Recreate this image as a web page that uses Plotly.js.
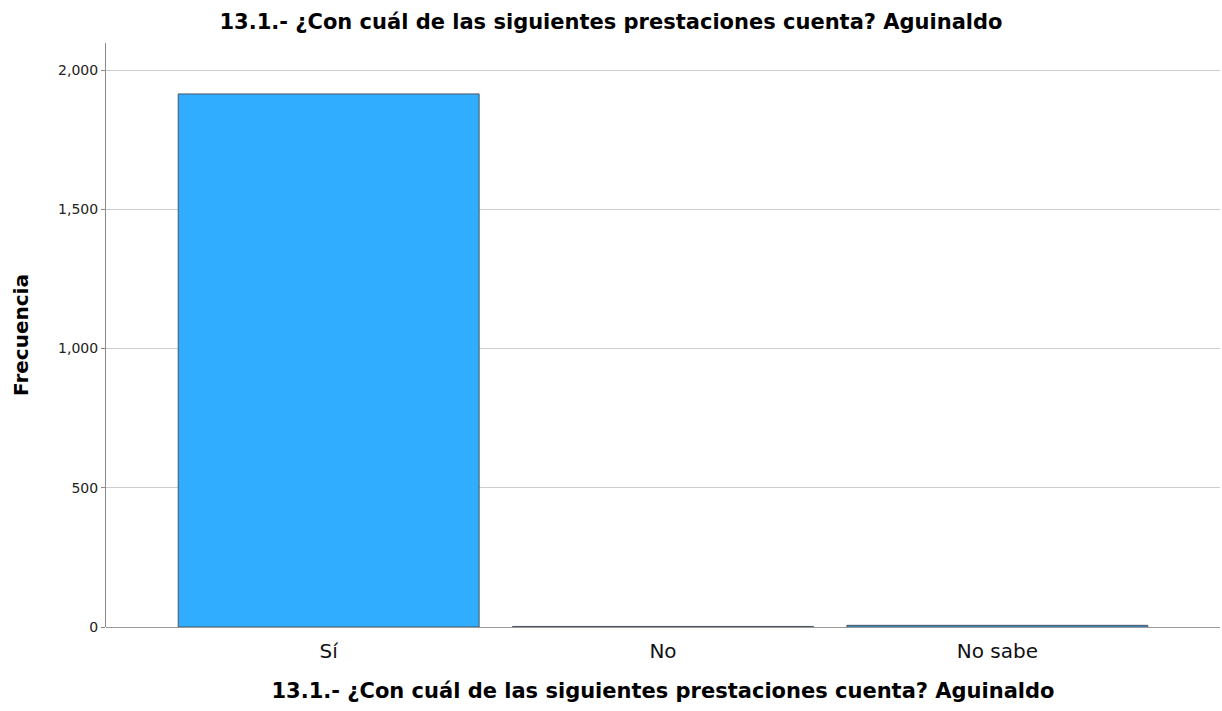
<!DOCTYPE html>
<html>
<head>
<meta charset="utf-8">
<script src="https://cdn.plot.ly/plotly-3.0.1.min.js"></script>
<style>html,body{margin:0;padding:0;background:#fff;}#chart{width:1222px;height:711px;}</style>
</head>
<body>
<div id="chart"></div>
<script>
const categories = ["Sí", "No", "No sabe"];
const frequencies = [1914, 2, 6];
const tickValues = [0, 500, 1000, 1500, 2000];
const tickLabels = ["0", "500", "1,000", "1,500", "2,000"];
const titleText = "13.1.- ¿Con cuál de las siguientes prestaciones cuenta? Aguinaldo";

const trace = {
  type: "bar",
  x: categories,
  y: frequencies,
  width: 0.9,
  marker: {color: "#31adff", line: {color: "#4a5560", width: 1}},
  hoverinfo: "x+y"
};

const layout = {
  width: 1222, height: 711,
  margin: {l: 106, r: 2, t: 43, b: 84},
  paper_bgcolor: "#ffffff", plot_bgcolor: "#ffffff",
  font: {family: "DejaVu Sans, sans-serif", color: "#000"},
  title: {text: titleText, x: 0.5, xanchor: "center", y: 0.969, yanchor: "middle",
          font: {family: "DejaVu Sans, sans-serif", size: 21, weight: "bold", color: "#000"}},
  xaxis: {
    range: [-0.666, 2.666],
    showline: false, showgrid: false, zeroline: false,
    ticks: "", ticklabelstandoff: 10,
    tickfont: {size: 20, family: "DejaVu Sans, sans-serif", color: "#111"},
    title: {text: titleText, standoff: 21, font: {size: 21, weight: "bold", family: "DejaVu Sans, sans-serif"}},
    fixedrange: true
  },
  yaxis: {
    range: [0, 2097],
    tickvals: tickValues, ticktext: tickLabels,
    showline: true, linecolor: "#8a8a8a", linewidth: 1,
    showgrid: true, gridcolor: "#cccccc", gridwidth: 1,
    zeroline: true, zerolinecolor: "#999999", zerolinewidth: 1,
    ticks: "outside", ticklen: 4, tickcolor: "#8a8a8a",
    tickfont: {size: 14, family: "DejaVu Sans, sans-serif", color: "#222"},
    title: {text: "Frecuencia", standoff: 24, font: {size: 20, weight: "bold", family: "DejaVu Sans, sans-serif"}},
    fixedrange: true
  },
  showlegend: false,
  bargap: 0.1
};

Plotly.newPlot("chart", [trace], layout, {displayModeBar: false, staticPlot: true});
</script>
</body>
</html>
